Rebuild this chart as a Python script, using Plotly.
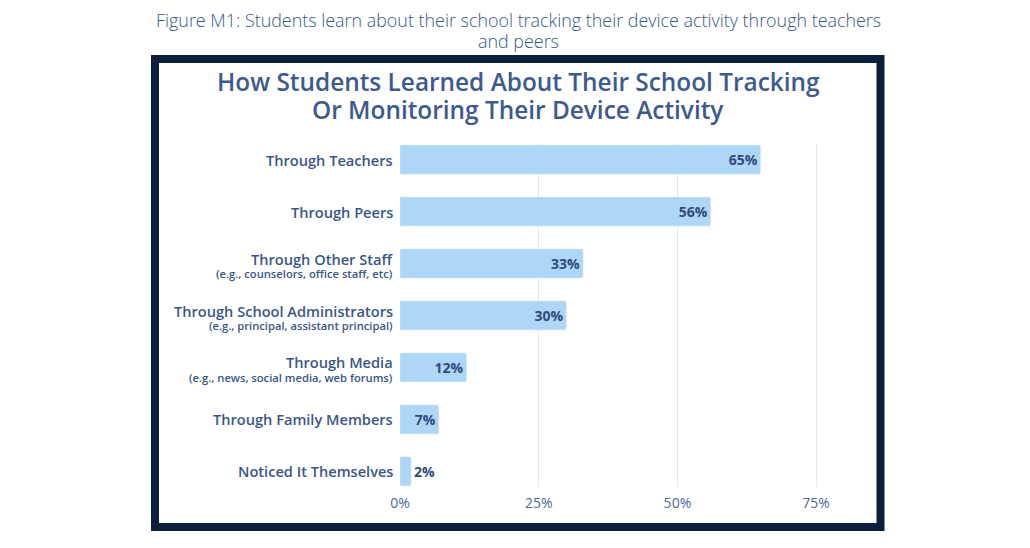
import plotly.graph_objects as go

# data
categories = [
    "Through Teachers",
    "Through Peers",
    "Through Other Staff",
    "Through School Administrators",
    "Through Media",
    "Through Family Members",
    "Noticed It Themselves",
]
notes = [
    "",
    "",
    "(e.g., counselors, office staff, etc)",
    "(e.g., principal, assistant principal)",
    "(e.g., news, social media, web forums)",
    "",
    "",
]
shares = [65, 56, 33, 30, 12, 7, 2]
x_ticks = [0, 25, 50, 75]

W, H = 1030, 548
L, R, T, B = 400, 830, 144, 487   # plot area in pixels
FONT = "Open Sans"
NAVY = "#0c1f3f"
TEXT = "#39568a"


def px(x):
    return (x - L) / (R - L)


def py(y):
    return (B - y) / (B - T)


fig = go.Figure()
fig.add_trace(go.Bar(
    x=shares,
    y=categories,
    orientation="h",
    width=0.56,
    marker=dict(color="#aed6f6", cornerradius=2),
    text=[f"{v}%" for v in shares],
    textposition=["inside" if v > 4 else "outside" for v in shares],
    insidetextanchor="end",
    textangle=0,
    constraintext="none",
    textfont=dict(family=FONT, size=14, color="#2f4a7c", weight=700),
    cliponaxis=False,
    hoverinfo="skip",
))

fig.update_layout(
    width=W, height=H,
    margin=dict(l=L, r=W - R, t=T, b=H - B, pad=0),
    paper_bgcolor="white",
    plot_bgcolor="white",
    showlegend=False,
    font=dict(family=FONT, color=TEXT),
)

fig.update_xaxes(
    range=[0, 77.5],
    tickvals=x_ticks,
    ticktext=[f"{v}%" for v in x_ticks],
    showgrid=True,
    gridcolor="#e6e8ef",
    gridwidth=1,
    zeroline=False,
    showline=False,
    ticks="",
    ticklabelstandoff=6,
    tickfont=dict(family=FONT, size=14, color="#4a6a9c"),
)
fig.update_yaxes(
    range=[6.3, -0.3],
    showticklabels=False,
    showgrid=False,
    zeroline=False,
    showline=False,
    ticks="",
)

# category labels, with the smaller example line beneath where there is one
for c, n in zip(categories, notes):
    fig.add_annotation(
        xref="paper", yref="y", x=px(395), y=c, yshift=5 if n else 0,
        text=c, showarrow=False, xanchor="right", yanchor="middle",
        font=dict(family=FONT, size=14.6, color=TEXT, weight=600),
    )
    if n:
        fig.add_annotation(
            xref="paper", yref="y", x=px(395), y=c, yshift=-10,
            text=n, showarrow=False, xanchor="right", yanchor="middle",
            font=dict(family=FONT, size=11.2, color=TEXT, weight=600),
        )

# dark frame around the chart
fig.add_shape(
    type="rect", xref="paper", yref="paper",
    x0=px(155), x1=px(880.5), y0=py(59), y1=py(527),
    line=dict(color=NAVY, width=8),
    fillcolor="rgba(0,0,0,0)",
    layer="below",
)

# figure caption above the frame
caption = ["Figure M1: Students learn about their school tracking their device activity through teachers",
           "and peers"]
for line, y in zip(caption, [20, 41]):
    fig.add_annotation(
        xref="paper", yref="paper", x=px(518), y=py(y),
        text=line, showarrow=False, xanchor="center", yanchor="middle",
        font=dict(family=FONT, size=17.9, color="#34588a", weight=300),
    )

# chart title inside the frame
title = ["How Students Learned About Their School Tracking",
         "Or Monitoring Their Device Activity"]
for line, y in zip(title, [82, 109]):
    fig.add_annotation(
        xref="paper", yref="paper", x=px(518), y=py(y),
        text=line, showarrow=False, xanchor="center", yanchor="middle",
        font=dict(family=FONT, size=24.4, color="#3d5a8f", weight=600),
    )

fig.write_html(
    "out.html",
    config={"displayModeBar": False},
    post_script="document.body.style.margin='0';",
)
